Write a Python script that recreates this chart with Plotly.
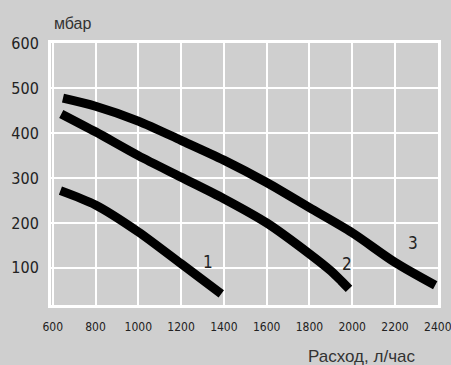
import plotly.graph_objects as go

# Data
x1 = [636, 800, 1000, 1200, 1388]
y1 = [272, 240, 180, 109, 42]

x2 = [640, 800, 1000, 1200, 1400, 1600, 1800, 1900, 1950, 1985]
y2 = [443, 403, 350, 302, 254, 200, 131, 93, 70, 53]

x3 = [648, 800, 1000, 1200, 1400, 1600, 1800, 2000, 2200, 2388]
y3 = [478, 460, 427, 384, 340, 290, 234, 178, 112, 61]

curve_labels = ["1", "2", "3"]
label_x = [1326, 1977, 2285]
label_y = [112, 109, 156]

x_ticks = [600, 800, 1000, 1200, 1400, 1600, 1800, 2000, 2200, 2400]
y_ticks = [100, 200, 300, 400, 500, 600]

BG = "#cfcfcf"
NARROW = "DejaVu Sans Condensed, Liberation Sans Narrow, Roboto, sans-serif"
REG = "Liberation Sans, Roboto, sans-serif"

fig = go.Figure()
for xs, ys in [(x1, y1), (x2, y2), (x3, y3)]:
    fig.add_trace(go.Scatter(x=xs, y=ys, mode="lines",
                             line=dict(color="black", width=9, shape="spline", smoothing=0.8),
                             hoverinfo="skip", showlegend=False))

for t, lx, ly in zip(curve_labels, label_x, label_y):
    fig.add_annotation(x=lx, y=ly, text=t, showarrow=False,
                       font=dict(family=NARROW, size=17, color="#222"))

fig.add_annotation(xref="paper", yref="paper", x=0.003, y=1.076, xanchor="left", yanchor="middle",
                   text="мбар", showarrow=False, font=dict(family=REG, size=16, color="#333"))
fig.add_annotation(xref="paper", yref="paper", x=0.946, y=-0.198, xanchor="right", yanchor="middle",
                   text="Расход, л/час", showarrow=False, font=dict(family=REG, size=17, color="#333"))

fig.update_layout(
    template="none",
    width=451, height=365,
    margin=dict(l=51, r=13, t=43, b=60, autoexpand=False),
    paper_bgcolor=BG, plot_bgcolor=BG,
    showlegend=False,
)
fig.update_xaxes(range=[592, 2401], tickvals=x_ticks, ticktext=[str(v) for v in x_ticks],
                 automargin=False, ticklabeloverflow="allow",
                 showgrid=True, gridcolor="white", gridwidth=1.5,
                 showline=True, linecolor="white", linewidth=3, mirror=True,
                 zeroline=False, ticks="", ticklabelstandoff=9,
                 tickfont=dict(family=NARROW, size=12, color="#222"))
fig.update_yaxes(range=[17, 601], tickvals=y_ticks, ticktext=[str(v) for v in y_ticks],
                 automargin=False, ticklabeloverflow="allow",
                 showgrid=True, gridcolor="white", gridwidth=1.5,
                 showline=True, linecolor="white", linewidth=3, mirror=True,
                 zeroline=False, ticks="", ticklabelstandoff=6,
                 tickfont=dict(family=NARROW, size=16, color="#222"))

fig.write_html("out.html", config={"displayModeBar": False},
               post_script="document.body.style.margin='0';document.body.style.overflow='hidden';")
